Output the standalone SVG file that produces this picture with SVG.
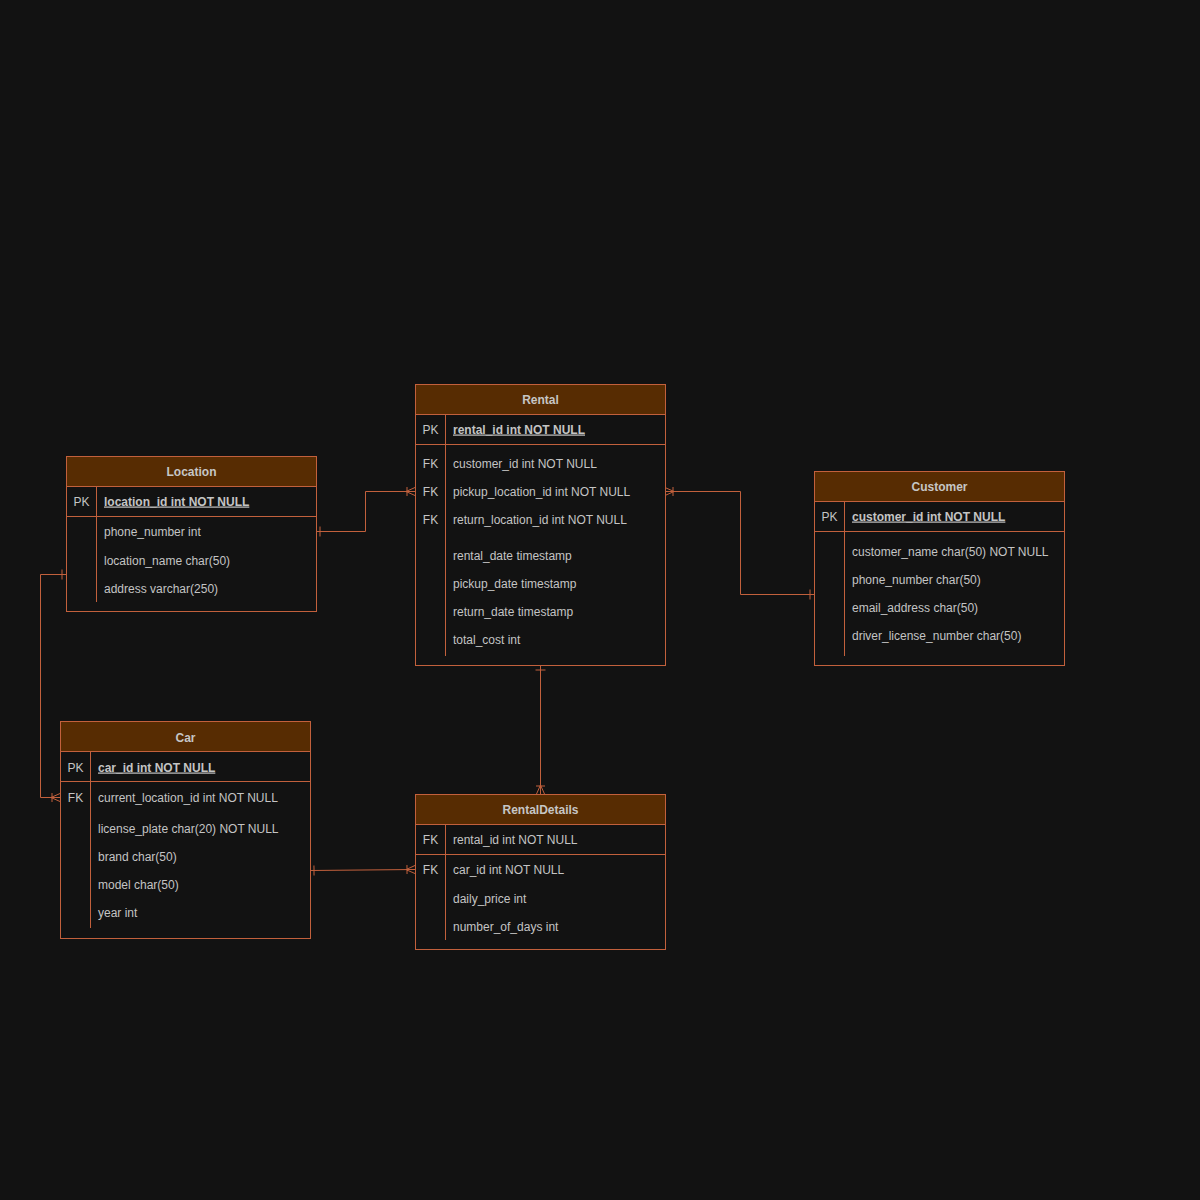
<svg xmlns="http://www.w3.org/2000/svg" width="1200" height="1200" viewBox="0 0 1200 1200">
  <style>
    .box { fill: #121212; stroke: #c2603c; stroke-width: 1; }
    .head { fill: #572c02; stroke: #c2603c; stroke-width: 1; }
    .sep { stroke: #c2603c; stroke-width: 1; fill: none; }
    .title { font-family: "Liberation Sans", Arial, sans-serif; font-size: 12px; font-weight: bold; fill: #c6c6c6; text-anchor: middle; }
    .key { font-family: "Liberation Sans", Arial, sans-serif; font-size: 12px; fill: #c4c4c4; text-anchor: middle; }
    .fld { font-family: "Liberation Sans", Arial, sans-serif; font-size: 12px; fill: #c4c4c4; }
    .pk { font-weight: bold; text-decoration: underline; }
    .link { stroke: #c2603c; stroke-width: 1; fill: none; }
    .mk { stroke: #c2603c; stroke-width: 1; fill: none; }
  </style>
  <defs>
    <!-- single bar: "one" -->
    <marker id="one" markerUnits="userSpaceOnUse" viewBox="0 0 12 12" markerWidth="12" markerHeight="12" refX="12" refY="6" orient="auto-start-reverse">
      <path class="mk" d="M8,1 L8,11"/>
    </marker>
    <!-- bar with crow's foot: "one or many" -->
    <marker id="many" markerUnits="userSpaceOnUse" viewBox="0 0 12 12" markerWidth="12" markerHeight="12" refX="12" refY="6" orient="auto-start-reverse">
      <path class="mk" d="M3,6 L12,2 M3,6 L12,10 M3,6 L12,6 M4,1.5 L4,10.5"/>
    </marker>
  </defs>

  <rect width="1200" height="1200" fill="#121212"/>

  <!-- relationships -->
  <g id="connectors">
    <path class="link" d="M316,531.5 L365.5,531.5 L365.5,491.5 L415,491.5" marker-start="url(#one)" marker-end="url(#many)"/>
    <path class="link" d="M66,574.5 L40.5,574.5 L40.5,797.5 L60,797.5" marker-start="url(#one)" marker-end="url(#many)"/>
    <path class="link" d="M814,594.5 L740.5,594.5 L740.5,491.5 L665,491.5" marker-start="url(#one)" marker-end="url(#many)"/>
    <path class="link" d="M540.5,666 L540.5,794" marker-start="url(#one)" marker-end="url(#many)"/>
    <path class="link" d="M310,870.5 L415,869.5" marker-start="url(#one)" marker-end="url(#many)"/>
  </g>

  <!-- Rental -->
  <g id="rental">
    <rect class="box" x="415.5" y="384.5" width="250" height="281"/>
    <rect class="head" x="415.5" y="384.5" width="250" height="30"/>
    <text class="title" x="540.5" y="403.5">Rental</text>
    <path class="sep" d="M415.5,444.5 L665.5,444.5 M445.5,414.5 L445.5,656"/>
    <text class="key" x="430.5" y="433.5">PK</text>
    <text class="fld pk" x="453" y="433.5">rental_id int NOT NULL</text>
    <text class="key" x="430.5" y="467.5">FK</text>
    <text class="fld" x="453" y="467.5">customer_id int NOT NULL</text>
    <text class="key" x="430.5" y="495.5">FK</text>
    <text class="fld" x="453" y="495.5">pickup_location_id int NOT NULL</text>
    <text class="key" x="430.5" y="523.5">FK</text>
    <text class="fld" x="453" y="523.5">return_location_id int NOT NULL</text>
    <text class="fld" x="453" y="559.5">rental_date timestamp</text>
    <text class="fld" x="453" y="587.5">pickup_date timestamp</text>
    <text class="fld" x="453" y="615.5">return_date timestamp</text>
    <text class="fld" x="453" y="643.5">total_cost int</text>
  </g>

  <!-- Location -->
  <g id="location">
    <rect class="box" x="66.5" y="456.5" width="250" height="155"/>
    <rect class="head" x="66.5" y="456.5" width="250" height="30"/>
    <text class="title" x="191.5" y="475.5">Location</text>
    <path class="sep" d="M66.5,516.5 L316.5,516.5 M96.5,486.5 L96.5,602"/>
    <text class="key" x="81.5" y="505.5">PK</text>
    <text class="fld pk" x="104" y="505.5">location_id int NOT NULL</text>
    <text class="fld" x="104" y="535.5">phone_number int</text>
    <text class="fld" x="104" y="564.5">location_name char(50)</text>
    <text class="fld" x="104" y="592.5">address varchar(250)</text>
  </g>

  <!-- Customer -->
  <g id="customer">
    <rect class="box" x="814.5" y="471.5" width="250" height="194"/>
    <rect class="head" x="814.5" y="471.5" width="250" height="30"/>
    <text class="title" x="939.5" y="490.5">Customer</text>
    <path class="sep" d="M814.5,531.5 L1064.5,531.5 M844.5,501.5 L844.5,656"/>
    <text class="key" x="829.5" y="520.5">PK</text>
    <text class="fld pk" x="852" y="520.5">customer_id int NOT NULL</text>
    <text class="fld" x="852" y="555.5">customer_name char(50) NOT NULL</text>
    <text class="fld" x="852" y="583.5">phone_number char(50)</text>
    <text class="fld" x="852" y="611.5">email_address char(50)</text>
    <text class="fld" x="852" y="639.5">driver_license_number char(50)</text>
  </g>

  <!-- Car -->
  <g id="car">
    <rect class="box" x="60.5" y="721.5" width="250" height="217"/>
    <rect class="head" x="60.5" y="721.5" width="250" height="30"/>
    <text class="title" x="185.5" y="741.5">Car</text>
    <path class="sep" d="M60.5,781.5 L310.5,781.5 M90.5,751.5 L90.5,928"/>
    <text class="key" x="75.5" y="771.5">PK</text>
    <text class="fld pk" x="98" y="771.5">car_id int NOT NULL</text>
    <text class="key" x="75.5" y="801.5">FK</text>
    <text class="fld" x="98" y="801.5">current_location_id int NOT NULL</text>
    <text class="fld" x="98" y="832.5">license_plate char(20) NOT NULL</text>
    <text class="fld" x="98" y="860.5">brand char(50)</text>
    <text class="fld" x="98" y="888.5">model char(50)</text>
    <text class="fld" x="98" y="916.5">year int</text>
  </g>

  <!-- RentalDetails -->
  <g id="rentaldetails">
    <rect class="box" x="415.5" y="794.5" width="250" height="155"/>
    <rect class="head" x="415.5" y="794.5" width="250" height="30"/>
    <text class="title" x="540.5" y="813.5">RentalDetails</text>
    <path class="sep" d="M415.5,854.5 L665.5,854.5 M445.5,824.5 L445.5,940"/>
    <text class="key" x="430.5" y="843.5">FK</text>
    <text class="fld" x="453" y="843.5">rental_id int NOT NULL</text>
    <text class="key" x="430.5" y="873.5">FK</text>
    <text class="fld" x="453" y="873.5">car_id int NOT NULL</text>
    <text class="fld" x="453" y="902.5">daily_price int</text>
    <text class="fld" x="453" y="930.5">number_of_days int</text>
  </g>
</svg>
